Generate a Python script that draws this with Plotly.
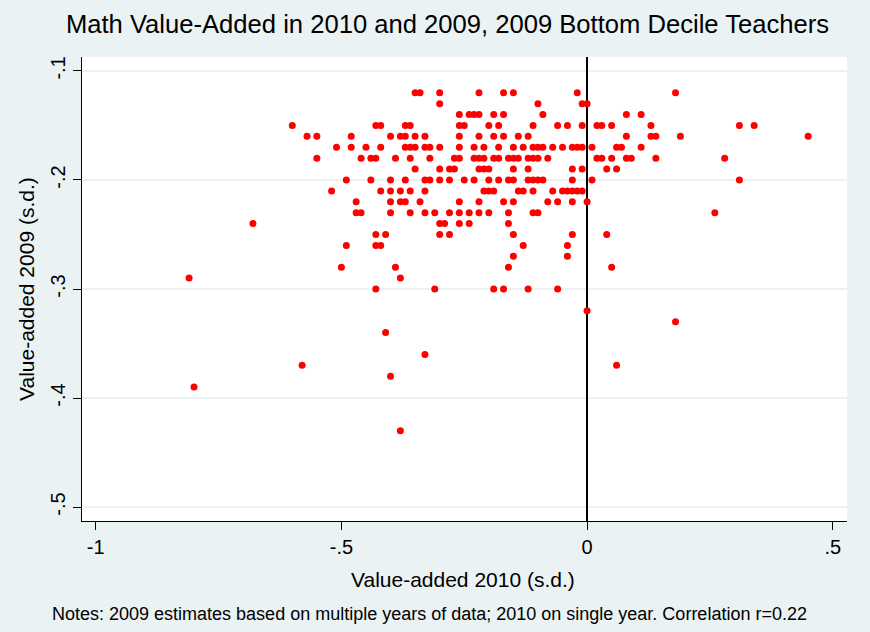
import plotly.graph_objects as go

# 2009 value-added levels (rows) and the 2010 value-added of teachers at each level
va_2009_levels = [
    -0.12, -0.13, -0.14, -0.15, -0.16, -0.17, -0.18, -0.19, -0.20, -0.21,
    -0.22, -0.23, -0.24, -0.25, -0.26, -0.27, -0.28, -0.29, -0.30, -0.32,
    -0.33, -0.34, -0.36, -0.37, -0.38, -0.39, -0.43,
]
va_2010_at_level = [
    [-0.35, -0.34, -0.30, -0.22, -0.17, -0.15, -0.02, 0.18],
    [-0.30, -0.10, -0.01, 0.00],
    [-0.26, -0.24, -0.23, -0.22, -0.19, -0.17, -0.09, 0.08, 0.11],
    [-0.60, -0.43, -0.42, -0.37, -0.36, -0.26, -0.25, -0.20, -0.18, -0.11,
     -0.06, -0.04, -0.01, 0.02, 0.03, 0.05, 0.13, 0.31, 0.34],
    [-0.57, -0.55, -0.48, -0.40, -0.38, -0.37, -0.35, -0.33, -0.26, -0.22,
     -0.19, -0.17, -0.14, -0.12, 0.08, 0.13, 0.14, 0.19, 0.45],
    [-0.51, -0.48, -0.45, -0.42, -0.37, -0.36, -0.35, -0.33, -0.32, -0.30,
     -0.26, -0.23, -0.21, -0.18, -0.15, -0.13, -0.11, -0.10, -0.09, -0.07,
     -0.05, -0.03, -0.02, -0.01, 0.01, 0.06, 0.07, 0.11],
    [-0.55, -0.46, -0.44, -0.43, -0.39, -0.36, -0.32, -0.27, -0.26, -0.23,
     -0.22, -0.21, -0.19, -0.18, -0.16, -0.15, -0.14, -0.12, -0.11, -0.10,
     -0.08, 0.02, 0.03, 0.05, 0.08, 0.09, 0.14, 0.28],
    [-0.35, -0.30, -0.28, -0.27, -0.22, -0.21, -0.20, -0.15, -0.12, -0.03,
     -0.01, 0.04, 0.06],
    [-0.49, -0.44, -0.40, -0.37, -0.33, -0.32, -0.30, -0.28, -0.25, -0.23,
     -0.20, -0.18, -0.16, -0.15, -0.12, -0.11, -0.10, -0.09, -0.03, 0.01, 0.31],
    [-0.52, -0.42, -0.40, -0.38, -0.36, -0.33, -0.21, -0.20, -0.19, -0.14,
     -0.13, -0.11, -0.07, -0.05, -0.04, -0.03, -0.02, -0.01],
    [-0.47, -0.40, -0.38, -0.37, -0.34, -0.26, -0.22, -0.17, -0.15, -0.08,
     -0.06, -0.03, 0.00],
    [-0.47, -0.46, -0.40, -0.36, -0.33, -0.31, -0.28, -0.26, -0.24, -0.22,
     -0.20, -0.16, -0.11, -0.10, 0.26],
    [-0.68, -0.30, -0.29, -0.26, -0.24, -0.16],
    [-0.43, -0.41, -0.30, -0.28, -0.15, -0.03, 0.04],
    [-0.49, -0.43, -0.42, -0.13, -0.04],
    [-0.15, -0.04],
    [-0.50, -0.39, -0.16, 0.05],
    [-0.81, -0.38],
    [-0.43, -0.31, -0.19, -0.17, -0.12, -0.06],
    [0.00],
    [0.18],
    [-0.41],
    [-0.33],
    [-0.58, 0.06],
    [-0.40],
    [-0.80],
    [-0.38],
]

x_tick_vals = [-1, -0.5, 0, 0.5]
x_tick_text = ["-1", "-.5", "0", ".5"]
y_tick_vals = [-0.1, -0.2, -0.3, -0.4, -0.5]
y_tick_text = ["-.1", "-.2", "-.3", "-.4", "-.5"]

title_text = "Math Value-Added in 2010 and 2009, 2009 Bottom Decile Teachers"
x_title = "Value-added 2010 (s.d.)"
y_title = "Value-added 2009 (s.d.)"
note_text = ("Notes: 2009 estimates based on multiple years of data; "
             "2010 on single year. Correlation r=0.22")

va_2010 = []
va_2009 = []
for level, xs in zip(va_2009_levels, va_2010_at_level):
    for xv in xs:
        va_2010.append(xv)
        va_2009.append(level)

BG = "#EAF2F3"
FONT = "Liberation Sans, Arial, Helvetica, sans-serif"

fig = go.Figure(
    go.Scatter(
        x=va_2010, y=va_2009, mode="markers",
        marker=dict(color="#FF0000", size=7, line=dict(width=0)),
        showlegend=False, hoverinfo="x+y",
    )
)

fig.update_layout(
    width=870, height=632,
    paper_bgcolor=BG, plot_bgcolor="white",
    margin=dict(l=82, r=23, t=57, b=111),
    font=dict(family=FONT, color="black"),
    title=dict(text=title_text, x=447.5 / 870, xanchor="center",
               y=1 - 24 / 632, yanchor="middle", xref="container", yref="container",
               font=dict(size=25.6, color="black", family=FONT)),
    showlegend=False,
)

fig.update_xaxes(
    range=[-1.028, 0.529], tickvals=x_tick_vals, ticktext=x_tick_text,
    showgrid=False, zeroline=True, zerolinecolor="black", zerolinewidth=2,
    showline=True, linecolor="black", linewidth=1,
    ticks="outside", ticklen=8, tickwidth=1, tickcolor="black",
    tickfont=dict(size=20, family=FONT, color="black"),
)
fig.update_yaxes(
    range=[-0.5128, -0.0872], tickvals=y_tick_vals, ticktext=y_tick_text,
    showgrid=True, gridcolor=BG, gridwidth=2, zeroline=False,
    showline=True, linecolor="black", linewidth=1,
    ticks="outside", ticklen=8, tickwidth=1, tickcolor="black",
    tickangle=-90, tickfont=dict(size=20, family=FONT, color="black"),
)

fig.add_annotation(text=x_title, xref="paper", yref="paper", x=(463 - 82) / 765, y=0,
                   yanchor="middle", xanchor="center", yshift=-(579 - 521),
                   showarrow=False, font=dict(size=21, family=FONT, color="black"))
fig.add_annotation(text=y_title, xref="paper", yref="paper", x=0, y=(521 - 289) / 464,
                   xanchor="center", yanchor="middle", xshift=-(82 - 26), textangle=-90,
                   showarrow=False, font=dict(size=21, family=FONT, color="black"))
fig.add_annotation(text=note_text, xref="paper", yref="paper", x=(429 - 82) / 765, y=0,
                   xanchor="center", yanchor="middle", yshift=-(614 - 521),
                   showarrow=False, font=dict(size=18, family=FONT, color="black"))

fig.write_html(
    "out.html",
    config={"displayModeBar": False},
    post_script="document.body.style.margin='0';document.body.style.overflow='hidden';",
)
